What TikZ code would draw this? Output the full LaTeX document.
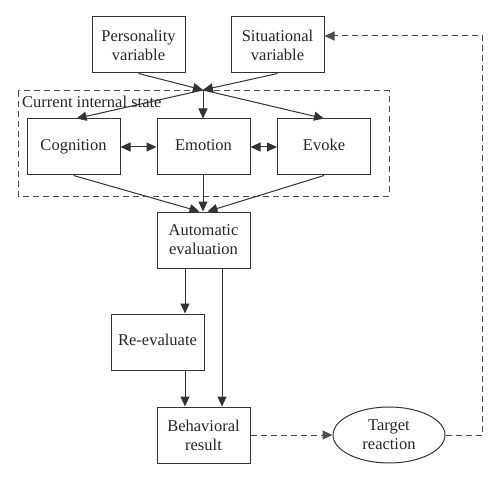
\documentclass[tikz,border=0pt]{standalone}
\usepackage{fontspec}
\setmainfont{Liberation Serif}
\usetikzlibrary{arrows.meta,shapes.geometric,calc}
\begin{document}
\begin{tikzpicture}[x=1pt,y=-1pt,
  box/.style={draw=black!80,line width=1pt,minimum width=93pt,minimum height=56pt,inner sep=0pt,align=center,text=black!85,font=\fontsize{16.5}{19}\selectfont},
  onel/.style={box,text height=11pt,text depth=3.5pt},
  oval/.style={box,ellipse,minimum width=112pt,minimum height=56pt},
  arr/.style={draw=black!80,line width=1pt,-{Triangle[length=10pt,width=9pt]}},
  darr/.style={draw=black!80,line width=1pt,{Triangle[length=10pt,width=9pt]}-{Triangle[length=10pt,width=9pt]}},
  dashln/.style={draw=black!70,line width=1pt,dash pattern=on 6pt off 4pt},
  lbl/.style={text=black!85,font=\fontsize{16.5}{19}\selectfont,inner sep=0pt,anchor=west}]
\useasboundingbox (0,0) rectangle (500,481);
% frame
\draw[dashln] (18,91) rectangle (389,196);
\node[lbl] (lab) at (22,102) {Current internal state};
% nodes
\node[box] (pers) at (138.5,45) {Personality\\variable};
\node[box] (sit) at (277.5,45) {Situational\\variable};
\coordinate (J) at (203,90);
\node[onel] (cog) at (73.5,147) {Cognition};
\node[onel] (emo) at (203.5,147) {Emotion};
\node[onel] (evo) at (324,147) {Evoke};
\node[box] (auto) at (203.5,240) {Automatic\\evaluation};
\node[onel] (reev) at (157.5,342) {Re-evaluate};
\node[box] (beh) at (203.5,435) {Behavioral\\result};
\node[oval] (targ) at (389,435) {Target\\reaction};
\coordinate (c1) at (482,435);
\coordinate (c2) at (482,36);
% connectors
\draw[arr] (pers.south) -- (J);
\draw[arr] (sit.south) -- (J);
\draw[arr] (J) -- ([xshift=3pt]cog.north);
\draw[arr] (J) -- (J |- emo.north);
\draw[arr] (J) -- (evo.north);
\draw[darr] (cog.east) -- (emo.west);
\draw[darr] (emo.east) -- (evo.west);
\draw[arr] (cog.south) -- ([xshift=-4pt]auto.north);
\draw[arr] (emo.south -| J) -- (J |- auto.north);
\draw[arr] (evo.south) -- ([xshift=4pt]auto.north);
\draw[arr] ([xshift=-18.5pt]auto.south) -- ([xshift=27.5pt]reev.north);
\draw[arr] ([xshift=27.5pt]reev.south) -- ([xshift=-18.5pt]beh.north);
\draw[arr] ([xshift=18.5pt]auto.south) -- ([xshift=18.5pt]beh.north);
\draw[dashln,-{Triangle[length=10pt,width=9pt]}] (beh.east) -- (targ.west);
\draw[dashln,-{Triangle[length=10pt,width=9pt]}] (targ.east) -- (c1) -- (c2) -- ([yshift=9pt]sit.east);
\end{tikzpicture}
\end{document}
